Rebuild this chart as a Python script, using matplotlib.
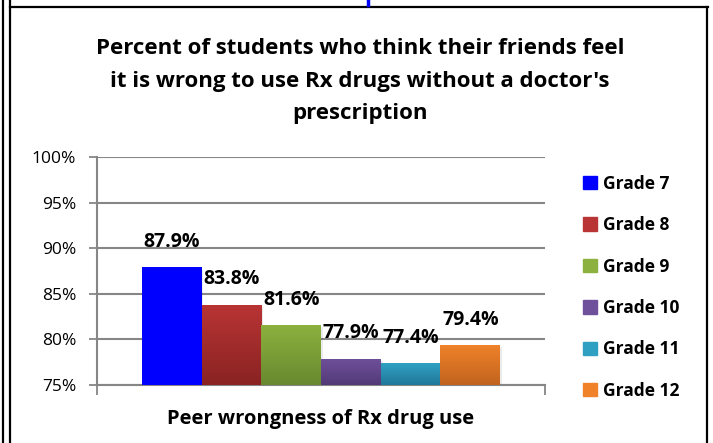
import matplotlib.pyplot as plt
import numpy as np
from matplotlib.colors import LinearSegmentedColormap
from matplotlib.lines import Line2D
from matplotlib.patches import Rectangle

plt.rcParams['font.family'] = ['Open Sans', 'DejaVu Sans']

# data
category = 'Peer wrongness of Rx drug use'
grades = ['Grade 7', 'Grade 8', 'Grade 9', 'Grade 10', 'Grade 11', 'Grade 12']
values = [87.9, 83.8, 81.6, 77.9, 77.4, 79.4]
# top colour / bottom colour of each bar
top_colors = ['#0000FF', '#B93434', '#8DB13F', '#6F509B', '#30A0C2', '#F0822A']
bottom_colors = ['#0000FF', '#8A2323', '#68892F', '#533A77', '#20789A', '#C1641E']
title = ("Percent of students who think their friends feel\n"
         "it is wrong to use Rx drugs without a doctor's\nprescription")

W, H = 713, 443
fig = plt.figure(figsize=(W / 100, H / 100), dpi=100)
ax = fig.add_axes([97 / W, (H - 385) / H, 448 / W, (385 - 157) / H])

n = len(values)
width = 0.8 / n
xs = -0.4 + width / 2 + np.arange(n) * width
bars = ax.bar(xs, [v - 75 for v in values], width, bottom=75,
              color=top_colors, zorder=3, linewidth=0)

# gradient fill for each bar
for b, c1, c2 in zip(bars, top_colors, bottom_colors):
    cmap = LinearSegmentedColormap.from_list('g', [c2, c1])
    x0, y0 = b.get_x(), b.get_y()
    grad = np.linspace(0, 1, 64).reshape(-1, 1)
    im = ax.imshow(grad, cmap=cmap, origin='lower', aspect='auto',
                   extent=[x0, x0 + b.get_width(), y0, y0 + b.get_height()],
                   zorder=4)
    im.set_clip_path(b)
    # light shadow
    ax.add_patch(Rectangle((x0 + 0.004, y0 - 0.25), b.get_width(), b.get_height(),
                           color='#000000', alpha=0.08, zorder=2, linewidth=0))

for x, v in zip(xs, values):
    ax.annotate(f'{v:.1f}%', (x, v), xytext=(0, 11), textcoords='offset points',
                ha='center', va='bottom', fontsize=14, fontweight='bold', zorder=6)

ax.set_xlim(-0.5, 0.5)
ax.set_ylim(75, 100)
ax.set_yticks(np.arange(75, 101, 5))
ax.set_yticklabels([f'{t}%' for t in range(75, 101, 5)], fontsize=12.5)
ax.set_xticks([-0.5, 0.5])
ax.set_xticklabels(['', ''])
ax.tick_params(axis='y', length=6, width=1.3, color='#868686', pad=9)
ax.tick_params(axis='x', length=7, width=1.3, color='#868686')
ax.grid(axis='y', color='#868686', linewidth=1.5, zorder=0)
for s in ['top', 'right']:
    ax.spines[s].set_visible(False)
ax.spines['left'].set_color('#868686')
ax.spines['left'].set_linewidth(1.5)
ax.spines['bottom'].set_color('#868686')
ax.spines['bottom'].set_linewidth(1.5)

ax.text(0.5, -0.15, category, transform=ax.transAxes, ha='center', va='center',
        fontsize=14.5, fontweight='bold')

fig.text(360 / W, 1 - 81 / H, title, ha='center', va='center', fontsize=16,
         fontweight='bold', linespacing=1.75)

handles = [Rectangle((0, 0), 1, 1, color=c) for c in top_colors]
leg = fig.legend(handles, grades, loc='upper left', bbox_to_anchor=(567 / W, 1 - 159 / H),
                 frameon=False, prop={'size': 12.5, 'weight': 'bold'},
                 handlelength=0.8, handleheight=0.8, handletextpad=0.35,
                 labelspacing=1.35)

# frame around the chart
fig.add_artist(Line2D([3 / W, 3 / W], [0, 1], color='black', linewidth=1.6))
fig.add_artist(Line2D([10 / W, 10 / W], [0, 1], color='black', linewidth=1.6))
fig.add_artist(Line2D([10 / W, 708 / W], [1 - 7 / H, 1 - 7 / H], color='black', linewidth=1.6))
fig.add_artist(Line2D([707 / W, 707 / W], [0, 1 - 7 / H], color='black', linewidth=1.6))
# fragment of blue heading cut off above the chart
fig.add_artist(Line2D([368 / W, 368 / W], [1, 1 - 5 / H], color='blue', linewidth=2.5))

fig.savefig('out.png', dpi=100)
